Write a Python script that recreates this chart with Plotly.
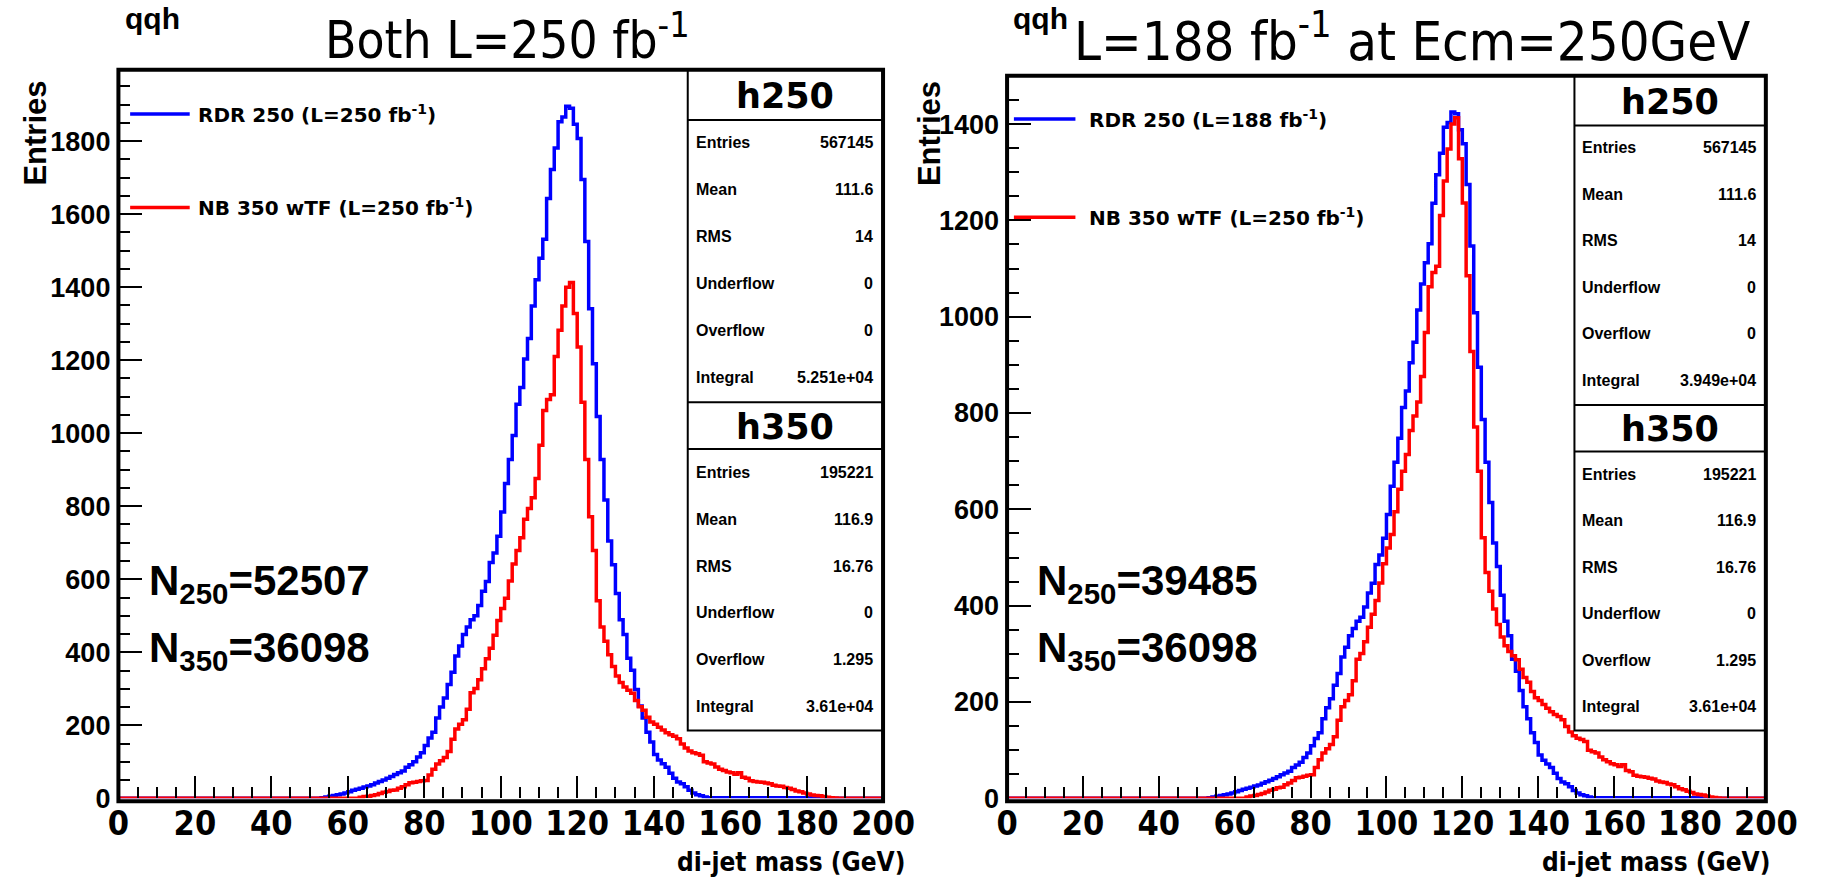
import plotly.graph_objects as go

W, H = 1833, 893

# ---------------- data ----------------
# di-jet mass histogram, 200 bins of 1 GeV from 0 to 200 GeV
N_BINS = 200
# RDR 250 (L=250 fb-1): first non-empty bin and contents
blue_start = 53
blue_counts = [2, 4, 6, 8, 10, 12, 15, 18, 22, 25, 28, 31, 34, 37, 42, 46, 50, 55,
               60, 65, 70, 75, 85, 92, 100, 113, 125, 145, 165, 181, 220, 250, 275,
               312, 345, 390, 417, 449, 469, 489, 500, 528, 567, 594, 646, 672, 718,
               784, 862, 928, 994, 1079, 1125, 1203, 1259, 1348, 1420, 1479, 1531,
               1643, 1722, 1781, 1853, 1866, 1895, 1890, 1846, 1807, 1695, 1525, 1341,
               1190, 1046, 928, 817, 705, 640, 561, 489, 449, 384, 351, 298, 253, 220,
               181, 154, 120, 105, 95, 85, 69, 55, 45, 40, 32, 22, 15, 10, 7, 4,
               2, 2, 2, 2, 2, 2, 2, 2, 2, 2, 2, 2, 2, 2, 2, 2, 2, 2, 2, 2, 2, 2, 2,
               2, 2, 2, 2, 2, 2]
# NB 350 wTF (L=250 fb-1)
red_start = 63
red_counts = [3, 5, 6, 8, 10, 13, 17, 19, 22, 23, 28, 32, 37, 43, 44, 46, 48, 49,
              64, 80, 94, 103, 112, 128, 162, 190, 203, 215, 244, 289, 301, 325, 355,
              382, 411, 447, 487, 520, 548, 595, 642, 679, 714, 764, 794, 823, 876,
              967, 1062, 1092, 1105, 1210, 1282, 1348, 1400, 1413, 1328, 1236, 1085,
              928, 771, 679, 541, 469, 430, 393, 361, 335, 317, 305, 296, 288, 268,
              251, 241, 222, 209, 203, 195, 187, 180, 174, 170, 163, 149, 138, 130,
              125, 122, 118, 100, 97, 94, 86, 80, 76, 72, 70, 66, 70, 58, 55, 48, 46,
              45, 44, 42, 40, 36, 34, 33, 30, 28, 24, 20, 18, 15, 12, 9, 8, 7, 5, 3,
              2, 1]
# luminosity scaling of the RDR sample in the right panel (188 / 250 fb-1)
lumi_rdr_right = 188.0
lumi_rdr_left = 250.0

x_ticks = [0, 20, 40, 60, 80, 100, 120, 140, 160, 180, 200]

stat_labels = ["Entries", "Mean", "RMS", "Underflow", "Overflow", "Integral"]
h250_left_vals = ["567145", "111.6", "14", "0", "0", "5.251e+04"]
h250_right_vals = ["567145", "111.6", "14", "0", "0", "3.949e+04"]
h350_vals = ["195221", "116.9", "16.76", "0", "1.295", "3.61e+04"]

n250_left = 52507
n250_right = 39485
n350 = 36098


def fill(start, counts):
    arr = [0] * N_BINS
    for i, c in enumerate(counts):
        arr[start + i] = c
    return arr


blue_left = fill(blue_start, blue_counts)
red = fill(red_start, red_counts)
blue_right = [v * lumi_rdr_right / lumi_rdr_left for v in blue_left]
edges = list(range(N_BINS + 1))


def X(p):
    return p / W


def Y(p):
    return 1 - p / H


BOLD = "Liberation Sans, Arial, sans-serif"
WIDE = "DejaVu Sans, sans-serif"
NARROW = "Liberation Sans Narrow, DejaVu Sans Condensed, Arial Narrow, Liberation Sans, sans-serif"

fig = go.Figure()


def hist(vals, color, xa, ya):
    fig.add_trace(go.Scatter(x=edges, y=vals + [vals[-1]], mode="lines",
                             line=dict(color=color, width=3.5, shape="hv"),
                             xaxis=xa, yaxis=ya, showlegend=False, hoverinfo="skip"))


hist(blue_left, "#0000ff", "x", "y")
hist(red, "#ff0000", "x", "y")
hist(blue_right, "#0000ff", "x2", "y2")
hist(red, "#ff0000", "x2", "y2")

ymax_left = 1.05 * max(max(blue_left), max(red))
ymax_right = 1.05 * max(max(blue_right), max(red))


def xaxis(domain, anchor):
    return dict(domain=domain, anchor=anchor, range=[0, 200], tickvals=x_ticks,
                ticks="inside", ticklen=22, tickwidth=2, tickcolor="black",
                minor=dict(dtick=5, ticks="inside", ticklen=11, tickwidth=2, tickcolor="black"),
                showline=False, showgrid=False, zeroline=False,
                tickfont=dict(family=NARROW, size=34, color="black", weight="bold"),
                ticklabelstandoff=2, fixedrange=True)


def yaxis(domain, anchor, ymax):
    return dict(domain=domain, anchor=anchor, range=[0, ymax], dtick=200,
                ticks="inside", ticklen=24, tickwidth=2, tickcolor="black",
                minor=dict(dtick=50, ticks="inside", ticklen=12, tickwidth=2, tickcolor="black"),
                showline=False, showgrid=False, zeroline=False,
                tickfont=dict(family=BOLD, size=27, color="black", weight="bold"),
                ticklabelstandoff=7, fixedrange=True)


shapes = []
annotations = []


def text(x, y, s, size, family=BOLD, xanchor="left", yanchor="middle", bold=True, angle=0):
    annotations.append(dict(x=X(x), y=Y(y), xref="paper", yref="paper", text=s,
                            showarrow=False, xanchor=xanchor, yanchor=yanchor, textangle=angle,
                            font=dict(family=family, size=size, color="black",
                                      weight="bold" if bold else "normal")))


def line(x0, y0, x1, y1, color="black", width=2):
    shapes.append(dict(type="line", xref="paper", yref="paper", x0=X(x0), y0=Y(y0),
                       x1=X(x1), y1=Y(y1), line=dict(color=color, width=width), layer="above"))


def stats_box(x0, x1, top, bottom, vals1, vals2):
    span = bottom - top
    shapes.append(dict(type="rect", xref="paper", yref="paper", x0=X(x0), x1=X(x1),
                       y0=Y(top), y1=Y(bottom), fillcolor="white",
                       line=dict(color="black", width=2), layer="above"))
    line(x0, top + 0.0759 * span, x1, top + 0.0759 * span)
    line(x0, top + 0.503 * span, x1, top + 0.503 * span)
    line(x0, top + 0.574 * span, x1, top + 0.574 * span)
    cx = (x0 + x1) / 2
    text(cx, top + 0.040 * span, "h250", 35, family=WIDE, xanchor="center")
    text(cx, top + 0.540 * span, "h350", 35, family=WIDE, xanchor="center")
    for i, (lab, v) in enumerate(zip(stat_labels, vals1)):
        yy = top + (0.110 + 0.071 * i) * span
        text(x0 + 6, yy, lab, 16)
        text(x1 - 8, yy, v, 16, xanchor="right")
    for i, (lab, v) in enumerate(zip(stat_labels, vals2)):
        yy = top + (0.609 + 0.071 * i) * span
        text(x0 + 6, yy, lab, 16)
        text(x1 - 8, yy, v, 16, xanchor="right")


# ---- left panel decorations ----
stats_box(693, 893, 71, 743, h250_left_vals, h350_vals)
line(122, 116, 183, 116, color="#0000ff", width=3.5)
line(122, 211, 183, 211, color="#ff0000", width=3.5)
text(189, 116, "RDR 250 (L=250 fb<sup>-1</sup>)", 20, family=WIDE)
text(189, 211, "NB 350 wTF (L=250 fb<sup>-1</sup>)", 20, family=WIDE)
text(139, 593, "N<sub>250</sub>=%d" % n250_left, 42)
text(139, 662, "N<sub>350</sub>=%d" % n350, 42)
text(115, 19, "qqh", 30)
text(320, 38, "Both L=250 fb<sup>-1</sup>", 51, family=NARROW, bold=False)
text(25, 80, "Entries", 31, xanchor="center", yanchor="top", angle=-90)
text(918, 877, "di-jet mass (GeV)", 26, family=NARROW, xanchor="right")

# ---- right panel decorations ----
stats_box(1601, 1797, 77, 743, h250_right_vals, h350_vals)
line(1027, 121, 1090, 121, color="#0000ff", width=3.5)
line(1027, 221, 1090, 221, color="#ff0000", width=3.5)
text(1102, 121, "RDR 250 (L=188 fb<sup>-1</sup>)", 20, family=WIDE)
text(1102, 221, "NB 350 wTF (L=250 fb<sup>-1</sup>)", 20, family=WIDE)
text(1049, 593, "N<sub>250</sub>=%d" % n250_right, 42)
text(1049, 662, "N<sub>350</sub>=%d" % n350, 42)
text(1024, 19, "qqh", 30)
text(1086, 38, "L=188 fb<sup>-1</sup> at Ecm=250GeV", 54, family=NARROW, bold=False)
text(940, 80, "Entries", 31, xanchor="center", yanchor="top", angle=-90)
text(1803, 877, "di-jet mass (GeV)", 26, family=NARROW, xanchor="right")

# frames (thick)
for (x0, x1, t, b) in [(110, 893, 71, 815), (1020, 1797, 77, 815)]:
    shapes.append(dict(type="rect", xref="paper", yref="paper", x0=X(x0), x1=X(x1),
                       y0=Y(b), y1=Y(t), line=dict(color="black", width=4), layer="above"))

fig.update_layout(
    width=W, height=H, margin=dict(l=0, r=0, t=0, b=0),
    paper_bgcolor="white", plot_bgcolor="white",
    xaxis=xaxis([X(110), X(893)], "y"),
    yaxis=yaxis([Y(812), Y(73)], "x", ymax_left),
    xaxis2=xaxis([X(1020), X(1797)], "y2"),
    yaxis2=yaxis([Y(812), Y(79)], "x2", ymax_right),
    shapes=shapes, annotations=annotations, showlegend=False,
)

fig.write_html("out.html")
